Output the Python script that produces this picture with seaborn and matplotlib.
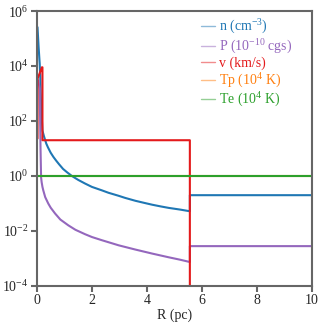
import numpy as np
import pandas as pd
import seaborn as sns
import matplotlib
matplotlib.use("Agg")
import matplotlib.pyplot as plt
from matplotlib.ticker import FixedLocator

# ---- data ----
R_n = [0.02, 0.06, 0.10, 0.12, 0.15, 0.20, 0.25, 0.30, 0.34, 0.40, 0.50, 0.60, 0.70, 0.80, 0.95,
       1.10, 1.27, 1.50, 1.75, 2.00, 2.36, 2.60, 2.97, 3.20, 3.58, 3.90, 4.19, 4.50, 4.79, 5.20,
       5.56, 5.56, 10.0]
n_vals = [2.6e5, 5e4, 1.2e4, 4e3, 4e2, 45, 29, 20, 15, 11, 7.0, 4.9, 3.6, 2.7, 1.8,
          1.35, 1.0, 0.72, 0.53, 0.40, 0.30, 0.245, 0.19, 0.16, 0.125, 0.105, 0.09, 0.078, 0.069, 0.06,
          0.052, 0.2, 0.2]

R_P = [0.02, 0.05, 0.10, 0.13, 0.15, 0.17, 0.20, 0.23, 0.30, 0.41, 0.50, 0.66, 0.85, 1.14, 1.40,
       1.75, 2.00, 2.36, 2.97, 3.58, 4.19, 4.79, 5.20, 5.56, 5.56, 10.0]
P_vals = [3e3, 3e3, 1.5e3, 10, 0.9, 0.6, 0.4, 0.3, 0.17, 0.1, 0.07, 0.043, 0.026, 0.016, 0.011,
          0.0076, 0.006, 0.0046, 0.003, 0.0021, 0.0015, 0.0011, 0.0009, 7.4e-4, 0.0028, 0.0028]

R_v = [0.01, 0.02, 0.025, 0.18, 0.20, 0.20, 5.56, 5.56, 10.0]
v_vals = [23, 23, 3.5e3, 9e3, 9e3, 20, 20, 1e-8, 1e-8]

R_T = [0.0, 10.0]
Tp_vals = [1.0, 1.0]
Te_vals = [1.0, 1.0]

labels = [r"n (cm$^{-3}$)", r"P (10$^{-10}$ cgs)", "v (km/s)", r"Tp (10$^{4}$ K)", r"Te (10$^{4}$ K)"]
colors = ["#1f77b4", "#9467bd", "#e41a1c", "#ff7f0e", "#2ca02c"]

sns.set_style("white")
plt.rcParams["font.family"] = ["Liberation Serif", "DejaVu Serif"]
plt.rcParams["mathtext.fontset"] = "custom"
plt.rcParams["mathtext.rm"] = "Liberation Serif"
plt.rcParams["mathtext.it"] = "Liberation Serif:italic"

fig = plt.figure(figsize=(3.27, 3.26), dpi=100)
ax = fig.add_axes([0.113, 0.123, 0.841, 0.843])

series = [(R_n, n_vals), (R_P, P_vals), (R_v, v_vals), (R_T, Tp_vals), (R_T, Te_vals)]
for (xs, ys), lab, col in zip(series, labels, colors):
    df = pd.DataFrame({"R": xs, "y": ys})
    sns.lineplot(data=df, x="R", y="y", ax=ax, color=col, lw=1.5, sort=False,
                 estimator=None, label=lab)

ax.set_yscale("log")
ax.set_xlim(0, 10)
ax.set_ylim(1e-4, 1e6)
ax.yaxis.set_major_locator(FixedLocator([1e-4, 1e-2, 1e0, 1e2, 1e4, 1e6]))
ax.yaxis.set_minor_locator(FixedLocator([]))
ax.set_xticks([0, 2, 4, 6, 8, 10])
ax.set_xlabel("R (pc)", fontsize=10, labelpad=1)
ax.set_ylabel("")

for s in ax.spines.values():
    s.set_color("#666666")
    s.set_linewidth(1.5)
ax.tick_params(axis="both", which="major", direction="out", length=4, width=1.5,
               color="#666666", labelsize=10, pad=2, left=True, bottom=True)

leg = ax.legend(loc="upper left", bbox_to_anchor=(0.55, 1.02), frameon=False,
                fontsize=10, handlelength=1.0, handletextpad=0.35, labelspacing=0.08)
for line, text, col in zip(leg.get_lines(), leg.get_texts(), colors):
    line.set_linewidth(1.0)
    line.set_alpha(0.5)
    text.set_color(col)

fig.savefig("out.png", dpi=100)
